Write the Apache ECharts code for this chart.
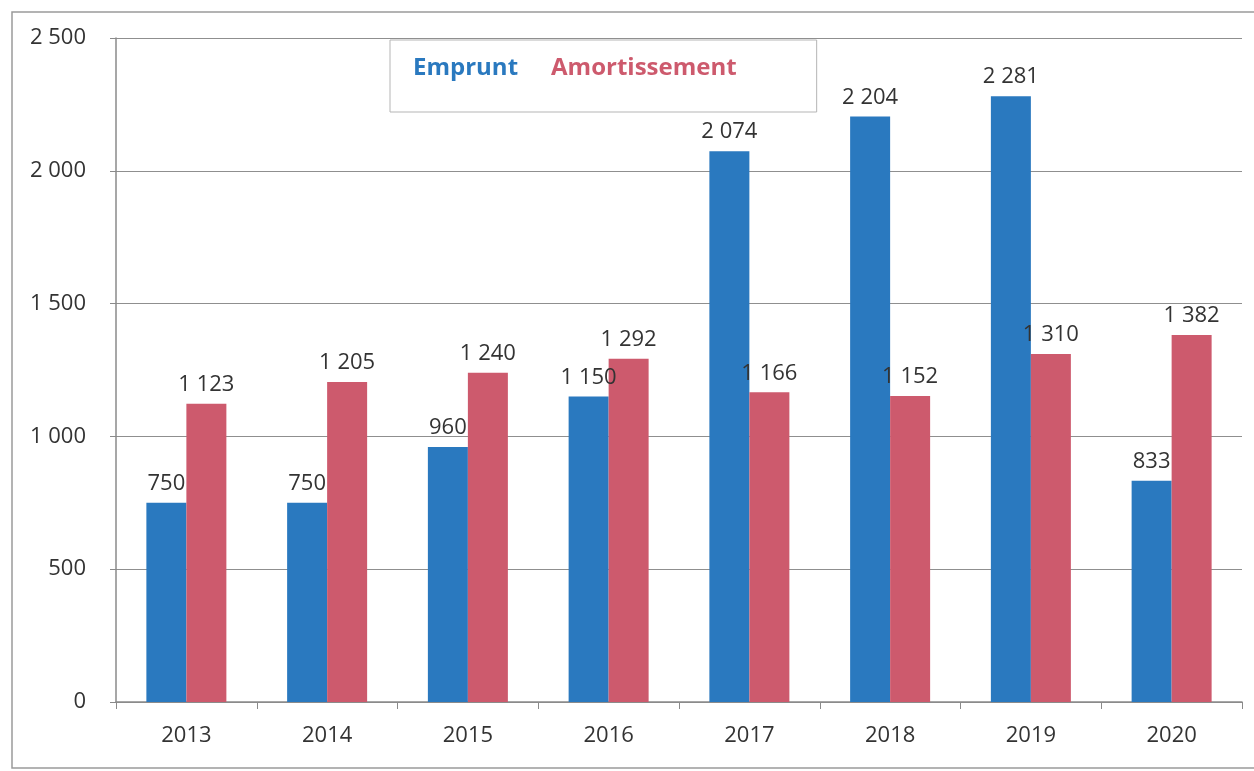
<!DOCTYPE html>
<html>
<head>
<meta charset="utf-8">
<title>Emprunt / Amortissement</title>
<script src="https://cdn.jsdelivr.net/npm/echarts@6/dist/echarts.min.js"></script>
<style>
  html, body { margin: 0; padding: 0; background: #fff; }
  #chart { width: 1254px; height: 771px; }
</style>
</head>
<body>
<div id="chart"></div>
<script>
// données
const years = ["2013", "2014", "2015", "2016", "2017", "2018", "2019", "2020"];
const emprunt = [750, 750, 960, 1150, 2074, 2204, 2281, 833];
const amortissement = [1123, 1205, 1240, 1292, 1166, 1152, 1310, 1382];

const blue = "#2a79bf";
const red = "#cd5a6d";
const font = "Open Sans";

// 2500 -> "2 500"
function fmt(v) {
  return String(v).replace(/\B(?=(\d{3})+(?!\d))/g, " ");
}

let chart = echarts.init(document.getElementById("chart"));

let option = {
  backgroundColor: "#fff",
  animation: false,
  textStyle: { fontFamily: font },
  graphic: [
    {
      type: "rect",
      shape: { x: 12, y: 12, width: 1250, height: 756 },
      style: { fill: "none", stroke: "#9a9a9a", lineWidth: 1.5 },
      silent: true,
    },
  ],
  legend: {
    left: 390,
    top: 40,
    icon: "none",
    itemWidth: 0,
    itemGap: 28,
    padding: [16, 80, 32, 18],
    borderColor: "#b5b5b5",
    borderWidth: 1,
    data: [
      { name: "Emprunt", textStyle: { color: blue } },
      { name: "Amortissement", textStyle: { color: red } },
    ],
    textStyle: { fontSize: 24, fontWeight: "bold", fontFamily: font },
  },
  grid: {
    left: 116,
    right: 12,
    top: 38,
    bottom: 69,
  },
  xAxis: {
    type: "category",
    data: years,
    axisLine: { lineStyle: { color: "#8a8a8a", width: 1.5 } },
    axisTick: { show: true, length: 7, lineStyle: { color: "#8a8a8a" } },
    axisLabel: { color: "#333", fontSize: 22, margin: 23, fontFamily: font },
  },
  yAxis: {
    type: "value",
    min: 0,
    max: 2500,
    interval: 500,
    axisLine: { show: true, lineStyle: { color: "#8a8a8a", width: 1.5 } },
    axisTick: { show: true, length: 6, lineStyle: { color: "#8a8a8a" } },
    splitLine: { lineStyle: { color: "#8f8f8f", width: 1.2 } },
    axisLabel: {
      color: "#333",
      fontSize: 22,
      margin: 30,
      fontFamily: font,
      formatter: fmt,
    },
  },
  series: [
    {
      name: "Emprunt",
      type: "bar",
      data: emprunt,
      barWidth: 40,
      barGap: "0%",
      itemStyle: { color: blue },
      label: {
        show: true,
        position: "top",
        distance: 8,
        color: "#333",
        fontSize: 22,
        fontFamily: font,
        formatter: (p) => fmt(p.value),
      },
    },
    {
      name: "Amortissement",
      type: "bar",
      data: amortissement,
      barWidth: 40,
      barGap: "0%",
      itemStyle: { color: red },
      label: {
        show: true,
        position: "top",
        distance: 8,
        color: "#333",
        fontSize: 22,
        fontFamily: font,
        formatter: (p) => fmt(p.value),
      },
    },
  ],
};

chart.setOption(option);
</script>
</body>
</html>
